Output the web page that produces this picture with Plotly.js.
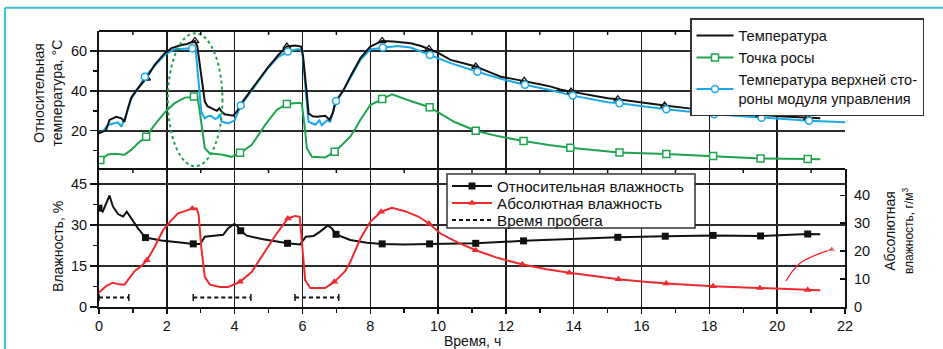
<!DOCTYPE html>
<html><head><meta charset="utf-8">
<script src="https://cdn.plot.ly/plotly-3.0.1.min.js"></script>
<style>html,body{margin:0;padding:0;background:#fff;}#chart{width:943px;height:349px;}</style>
</head><body><div id="chart"></div>
<script>
// ---- Температура (black) ----
const tempX = [0,0.21,0.31,0.51,0.66,0.75,0.85,0.95,1.05,1.15,1.4,1.64,1.94,2.14,2.43,2.6,2.73,2.83,2.9,2.95,3.0,3.06,3.12,3.2,3.27,3.4,3.48,3.55,3.62,3.71,3.96,4.08,4.2,4.6,5.0,5.29,5.54,5.78,5.96,6.02,6.06,6.12,6.18,6.3,6.43,6.6,6.67,6.8,6.9,6.97,7.2,7.41,7.56,7.71,8.0,8.2,8.35,8.69,9.0,9.19,9.5,9.73,10.0,10.37,10.7,11.11,11.5,11.85,12.2,12.54,13.0,13.33,13.6,13.92,14.5,15.0,15.3,16.0,16.68,17.4,18.11,18.8,19.49,20.2,20.9,21.27];
const tempY = [18.7,20.3,25.4,27,26.2,24.5,31,36.5,39,41.3,46.3,53,58.9,61.4,63,63.5,64.4,65,62.2,56,48,40,34.6,32.3,31.6,30.6,30,31.2,29.5,28.2,27.5,30,33.8,43,52.2,58,62.2,62.7,62.2,57,51.4,40,28.7,27.2,27,27.3,27.5,25.5,29,34.3,40,47.1,51.4,56.4,62.2,64,65,64.7,64.3,63.9,62.5,61,59,55.5,54,52.2,49.5,47.1,46,45,43.3,42.1,40.7,39.6,37.7,36.3,35.8,34,32.6,31.2,30,28.8,27.9,27.1,26.5,26.3];
const tempMarkX = [1.4,2.83,5.54,8.35,9.73,11.11,12.54,13.92,15.3,16.68,18.11,19.49,20.9];
const tempMarkY = [46.3,65,62.2,65,61,52.2,45,39.6,35.8,32.6,30,27.9,26.5];

// ---- Температура верхней стороны модуля управления (blue) ----
const topX = [0,0.15,0.26,0.41,0.56,0.66,0.8,0.95,1.05,1.15,1.35,1.64,1.94,2.23,2.5,2.75,2.85,2.92,2.97,3.02,3.12,3.2,3.3,3.43,3.5,3.56,3.62,3.81,4.0,4.18,4.6,5.0,5.29,5.57,5.88,6.0,6.1,6.18,6.38,6.5,6.57,6.72,6.82,6.99,7.2,7.41,7.71,8.0,8.37,8.79,9.19,9.76,10.37,11.16,11.85,12.56,13.33,13.97,15.0,15.35,16.73,18.14,19.54,20.94,22.0];
const topY = [18.7,20.5,22.9,23.7,24.2,22,27.9,36,38.5,41,47.1,52.5,58,60.9,61.3,61.4,60.6,48,38,29.2,26.2,27.2,27.5,25.8,26.5,28.2,24.5,23.7,25.2,32.6,42.5,51.7,57,59.7,61,59.7,39.6,24.5,23,25.2,22.7,25.2,24.5,34.9,40,46.3,55.6,60.7,61.7,62.5,61.7,58,53.9,49.6,46,43,40.3,37.6,34.3,33.8,30.8,28.2,26.5,25,24.2];
const topMarkX = [1.35,2.75,4.18,5.57,6.99,8.37,9.76,11.16,12.56,13.97,15.35,16.73,18.14,19.54,20.94];
const topMarkY = [47.1,61.4,32.6,59.7,34.9,61.7,58,49.6,43,37.6,33.8,30.8,28.2,26.5,25];

// ---- Точка росы (green) ----
const dewX = [0.04,0.26,0.46,0.75,0.95,1.15,1.39,1.64,1.94,2.23,2.53,2.8,2.9,2.96,3.02,3.12,3.27,3.61,3.91,4.16,4.5,4.9,5.24,5.54,5.9,5.98,6.06,6.13,6.28,6.67,6.95,7.26,7.41,7.56,7.71,8.0,8.35,8.64,9.19,9.75,10.47,11.11,11.75,12.52,13.27,13.9,15.1,15.35,16.73,18.11,19.51,20.9,21.27];
const dewY = [5.3,8.1,8.4,7.9,10.4,13.7,17,22.9,29.2,33.8,36.6,37.1,37,31,22.9,11.2,8.6,8.1,6.9,8.9,12.8,22.9,30.4,33.4,34,33.6,22.9,11.2,6.9,6.6,9.4,14.6,17,21,25.5,32.9,35.9,38.3,34.9,31.8,24.5,20,17.3,14.8,12.8,11.5,9.5,9.1,8.3,7.3,6.1,5.8,5.7];
const dewMarkX = [0.04,1.39,2.8,4.16,5.54,6.95,8.35,9.75,11.11,12.52,13.9,15.35,16.73,18.11,19.51,20.9];
const dewMarkY = [5.3,17,37.1,8.9,33.4,9.4,35.9,31.8,20,14.8,11.5,9.1,8.3,7.3,6.1,5.8];

// ---- Относительная влажность, % (black) ----
const rhX = [0,0.11,0.31,0.41,0.56,0.71,0.82,0.95,1.15,1.37,1.84,2.33,2.78,2.99,3.12,3.32,3.66,3.81,3.99,4.09,4.18,4.36,4.8,5.56,5.93,6.1,6.33,6.52,6.75,6.87,6.99,7.41,7.9,8.35,9.0,9.75,11.11,12.52,13.9,15.3,16.7,18.11,19.51,20.9,21.27];
const rhY = [36.2,34.9,40.8,36.8,34,33.1,34.9,32.5,28.8,25.4,24.3,23.7,23.1,23.1,25.7,26,26.4,28.8,30.4,29.5,27.9,26.1,24.9,23.3,22.9,25.7,26,27.6,29.8,28.7,26.6,24.5,23.5,23.1,22.9,23.1,23.3,24.2,24.9,25.5,25.9,26.2,26,26.7,26.6];
const rhMarkX = [0,1.37,2.78,4.18,5.56,6.99,8.35,9.75,11.11,12.52,15.3,16.7,18.11,19.51,20.9];
const rhMarkY = [36.2,25.4,23.1,27.9,23.3,26.6,23.1,23.1,23.3,24.2,25.5,25.9,26.2,26,26.7];

// ---- Абсолютная влажность, г/м3 (red, right axis) ----
const ahX = [0,0.21,0.41,0.6,0.75,0.9,1.05,1.25,1.41,1.64,1.89,2.14,2.33,2.53,2.75,2.88,2.94,3.02,3.12,3.27,3.57,3.81,4.16,4.5,4.9,5.24,5.57,5.78,5.92,6.0,6.08,6.23,6.67,6.94,7.26,7.41,7.56,7.71,8.0,8.32,8.64,9.02,9.43,9.73,10.07,10.57,11.11,11.75,12.49,13.2,13.87,14.6,15.32,16.0,16.73,18.11,19.49,20.9,21.27];
const ahY = [5.2,7.5,8.7,8.1,8.0,10.2,12.8,14.7,16.7,21.5,27.5,31.1,33.5,34.3,35.3,35.3,32.9,20.9,10.8,8.0,7.2,7.2,9.0,12.5,19.7,26.3,31.7,32.6,32.3,20.9,9.6,6.8,6.8,9.0,12.8,16.1,20.2,24.5,30.5,34.1,35.5,34.3,32.3,29.9,26.3,23.1,20.3,17.6,15.2,13.5,12.3,11,9.9,9.1,8.4,7.4,6.8,6.1,6.0];
const ahMarkX = [1.41,2.75,4.16,5.57,6.94,8.32,9.73,11.11,12.49,13.87,15.32,16.73,18.11,19.49,20.9];
const ahMarkY = [16.7,35.3,9.0,31.7,9.0,34.1,29.9,20.3,15.2,12.3,9.9,8.4,7.4,6.8,6.1];

// pointer to the right axis
const arrowX = [20.26,20.43,20.72,21.12,21.61];
const arrowY = [9.3,12.5,16.1,18.5,20.6];

// ---- Время пробега (run time intervals) ----
const runStart = [0,2.78,5.78];
const runEnd = [0.88,4.48,7.07];
const runLevel = 3.5;

const xTicks = [0,2,4,6,8,10,12,14,16,18,20,22];
const xMinor = [1,3,5,7,9,11,13,15,17,19,21];

// ---- styles ----
const FONT = 'Liberation Sans, Arial, sans-serif';
const BLACK = '#111111', GREEN = '#1ea34e', BLUE = '#1aa9e8', RED = '#ee2a2f', CYAN = '#3fc1d2';

function sparse(arr){ const o=[]; arr.forEach((v,i)=>{ if(i) o.push(null); o.push(v); }); return o; }

const runX = [], runY = [], runEndX = [], runEndY = [];
runStart.forEach((s,i)=>{
  if(i){runX.push(null); runY.push(null);}
  runX.push(s, runEnd[i]); runY.push(runLevel, runLevel);
  runEndX.push(s, runEnd[i]); runEndY.push(runLevel, runLevel);
});

const traces = [
  {x: dewX, y: dewY, mode:'lines', line:{color:GREEN,width:2}, showlegend:false, xaxis:'x', yaxis:'y'},
  {x: topX, y: topY, mode:'lines', line:{color:BLUE,width:2}, showlegend:false, xaxis:'x', yaxis:'y'},
  {x: tempX, y: tempY, mode:'lines', name:'Температура', line:{color:BLACK,width:2}, legend:'legend', legendrank:1, xaxis:'x', yaxis:'y'},
  {x: tempMarkX, y: tempMarkY, mode:'markers', marker:{symbol:'triangle-up-open', size:7, color:BLACK, line:{width:1.3}}, showlegend:false, xaxis:'x', yaxis:'y'},
  {x: sparse(dewMarkX), y: sparse(dewMarkY), mode:'lines+markers', name:'Точка росы', line:{color:GREEN,width:2}, marker:{symbol:'square', size:7, color:'white', line:{color:GREEN,width:1.5}}, legend:'legend', legendrank:2, xaxis:'x', yaxis:'y'},
  {x: sparse(topMarkX), y: sparse(topMarkY), mode:'lines+markers', name:'Температура верхней сто-<br>роны модуля управления', line:{color:BLUE,width:2}, marker:{symbol:'circle', size:7, color:'white', line:{color:BLUE,width:1.5}}, legend:'legend', legendrank:3, xaxis:'x', yaxis:'y'},

  {x: ahX, y: ahY, mode:'lines', line:{color:RED,width:2}, showlegend:false, xaxis:'x', yaxis:'y3'},
  {x: rhX, y: rhY, mode:'lines', line:{color:BLACK,width:2}, showlegend:false, xaxis:'x', yaxis:'y2'},
  {x: sparse(rhMarkX), y: sparse(rhMarkY), mode:'lines+markers', name:'Относительная влажность', line:{color:BLACK,width:2}, marker:{symbol:'square', size:7, color:BLACK}, legend:'legend2', xaxis:'x', yaxis:'y2'},
  {x: sparse(ahMarkX), y: sparse(ahMarkY), mode:'lines+markers', name:'Абсолютная влажность', line:{color:RED,width:2}, marker:{symbol:'triangle-up', size:7, color:RED}, legend:'legend3', xaxis:'x', yaxis:'y3'},
  {x: runX, y: runY, mode:'lines', name:'Время пробега', line:{color:BLACK,width:2,dash:'4px,3px'}, legend:'legend4', xaxis:'x', yaxis:'y2'},
  {x: runEndX, y: runEndY, mode:'markers', marker:{symbol:'line-ns-open', size:5, color:BLACK, line:{width:1.5, color:BLACK}}, showlegend:false, xaxis:'x', yaxis:'y2'},
  {x: arrowX, y: arrowY, mode:'lines+markers', line:{color:RED,width:1.3,shape:'spline'}, marker:{symbol:'triangle-up', color:RED, size:[0,0,0,0,7]}, showlegend:false, xaxis:'x', yaxis:'y3'}
];

// pixel -> paper helpers (plot area: left 99, width 746, bottom 307, height 276)
const px = p => (p - 99) / 746;
const py = p => (307 - p) / 276;

const shapes = [
  {type:'line', xref:'paper', yref:'paper', x0:px(5), x1:px(5), y0:py(7.7), y1:py(360), line:{color:CYAN,width:2}},
  {type:'line', xref:'paper', yref:'paper', x0:px(5), x1:px(960), y0:py(7.7), y1:py(7.7), line:{color:CYAN,width:2}},
  {type:'line', xref:'paper', yref:'paper', x0:0, x1:1, y0:1, y1:1, line:{color:BLACK,width:2}},
  {type:'line', xref:'paper', yref:'paper', x0:0, x1:1, y0:0.5, y1:0.5, line:{color:BLACK,width:2}},
  {type:'circle', xref:'x', yref:'y', x0:2.03, x1:3.64, y0:2.2, y1:68.9, line:{color:GREEN,width:2,dash:'dot'}},
  {type:'rect', xref:'paper', yref:'paper', x0:px(447), x1:px(695), y0:py(228), y1:py(174), fillcolor:'white', line:{color:'#333',width:1.5}, layer:'above'}
];
xMinor.forEach(h=>{
  shapes.push({type:'line', xref:'x', yref:'paper', x0:h, x1:h, y0:1, y1:1-4/276, line:{color:BLACK,width:1.5}});
  shapes.push({type:'line', xref:'x', yref:'paper', x0:h, x1:h, y0:0.5, y1:0.5-4/276, line:{color:BLACK,width:1.5}});
});

const tickFont = {family:FONT, size:14.5, color:BLACK};
const lowLegend = (row) => ({x:px(447), y:py(row), xanchor:'left', yanchor:'middle', bgcolor:'rgba(0,0,0,0)', borderwidth:0,
    font:{family:FONT, size:15.2, color:BLACK}, itemwidth:40, tracegroupgap:0});
const layout = {
  width:943, height:349,
  margin:{l:99, r:98, t:31, b:42},
  paper_bgcolor:'white', plot_bgcolor:'white',
  font:{family:FONT, color:BLACK},
  showlegend:true,
  xaxis:{domain:[0,1], anchor:'y2', range:[0,22], tickmode:'array', tickvals:xTicks, ticks:'outside', ticklen:5, tickwidth:1.5, tickcolor:BLACK,
    showline:true, linecolor:BLACK, linewidth:2, showgrid:true, gridcolor:'#1a1a1a', gridwidth:1.5, zeroline:false, tickfont:tickFont,
    minor:{tickmode:'array', tickvals:xMinor, ticks:'outside', ticklen:4, tickwidth:1.5, tickcolor:BLACK, showgrid:false}},
  yaxis:{domain:[0.5,1], anchor:'x', range:[0.8,70], tickmode:'array', tickvals:[20,40,60], ticks:'outside', ticklen:7, tickwidth:1.5, tickcolor:BLACK,
    showline:true, linecolor:BLACK, linewidth:2, showgrid:true, gridcolor:'#2a2a2a', gridwidth:1.6, zeroline:false, tickfont:tickFont,
    minor:{tickmode:'array', tickvals:[10,30,50], ticks:'outside', ticklen:4, tickwidth:1.5, tickcolor:BLACK, showgrid:false}},
  yaxis2:{domain:[0,0.5], anchor:'x', range:[0,50.5], tickmode:'array', tickvals:[0,15,30,45], ticks:'outside', ticklen:7, tickwidth:1.5, tickcolor:BLACK,
    showline:true, linecolor:BLACK, linewidth:2, showgrid:true, gridcolor:'#2a2a2a', gridwidth:1.6, zeroline:false, tickfont:tickFont,
    minor:{tickmode:'array', tickvals:[7.5,22.5,37.5], ticks:'outside', ticklen:4, tickwidth:1.5, tickcolor:BLACK, showgrid:false}},
  yaxis3:{overlaying:'y2', side:'right', anchor:'x', range:[0,49.4], tickmode:'array', tickvals:[0,10,20,30,40], ticks:'inside', ticklen:5, tickwidth:1.5, tickcolor:BLACK,
    showline:true, linecolor:BLACK, linewidth:2, showgrid:false, zeroline:false, tickfont:tickFont, ticklabelstandoff:4},
  legend:{x:px(690), y:py(18), xanchor:'left', yanchor:'top', bgcolor:'white', bordercolor:'#333', borderwidth:1.5,
    font:{family:FONT, size:14.6, color:BLACK}, itemwidth:37, tracegroupgap:0, traceorder:'normal'},
  legend2: lowLegend(186),
  legend3: lowLegend(203),
  legend4: lowLegend(220),
  shapes: shapes,
  annotations:[
    {xref:'paper', yref:'paper', x:px(47.5), y:py(93), text:'Относительная<br>температура, °С', textangle:-90, showarrow:false, font:{family:FONT,size:14,color:BLACK}, xanchor:'center', yanchor:'middle'},
    {xref:'paper', yref:'paper', x:px(58), y:py(247), text:'Влажность, %', textangle:-90, showarrow:false, font:{family:FONT,size:14,color:BLACK}, xanchor:'center', yanchor:'middle'},
    {xref:'paper', yref:'paper', x:px(899), y:py(231), text:'Абсолютная<br><span style="font-size:12px">влажность, г/м<sup>3</sup></span>', textangle:-90, showarrow:false, font:{family:FONT,size:14,color:BLACK}, xanchor:'center', yanchor:'middle'},
    {xref:'paper', yref:'paper', x:0.5, y:py(341), text:'Время, ч', showarrow:false, font:{family:FONT,size:14,color:BLACK}, xanchor:'center', yanchor:'middle'}
  ]
};
Plotly.newPlot('chart', traces, layout, {displayModeBar:false, staticPlot:true});
</script></body></html>
